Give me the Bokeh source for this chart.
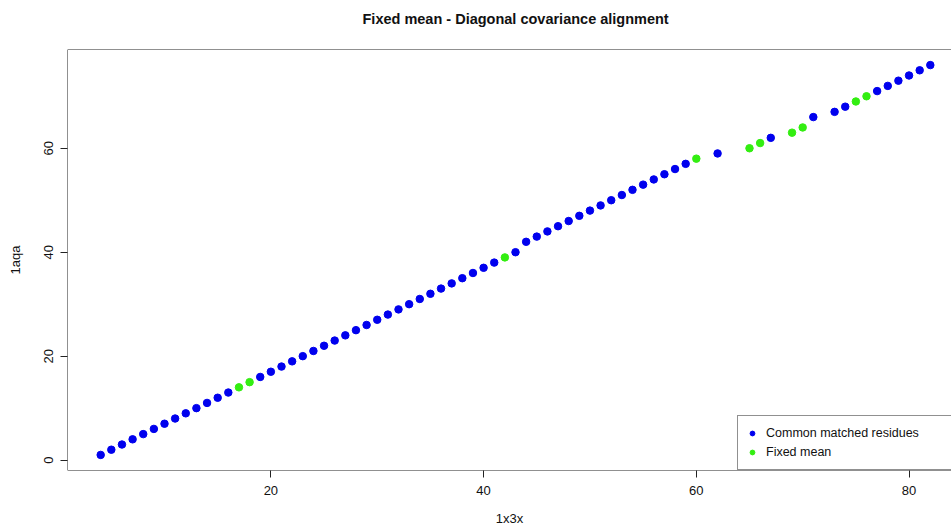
from bokeh.plotting import figure
from bokeh.models import Range1d, Span, Title
from bokeh.embed import file_html
from bokeh.resources import INLINE

# Residue index pairs (1x3x, 1aqa)
common_x = [4, 5, 6, 7, 8, 9, 10, 11, 12, 13, 14, 15, 16,
            19, 20, 21, 22, 23, 24, 25, 26, 27, 28, 29, 30, 31, 32, 33, 34, 35,
            36, 37, 38, 39, 40, 41, 43,
            44, 45, 46, 47, 48, 49, 50, 51, 52, 53, 54, 55, 56, 57, 58, 59,
            62, 67, 71, 73, 74, 77, 78, 79, 80, 81, 82]
common_y = [1, 2, 3, 4, 5, 6, 7, 8, 9, 10, 11, 12, 13,
            16, 17, 18, 19, 20, 21, 22, 23, 24, 25, 26, 27, 28, 29, 30, 31, 32,
            33, 34, 35, 36, 37, 38, 40,
            42, 43, 44, 45, 46, 47, 48, 49, 50, 51, 52, 53, 54, 55, 56, 57,
            59, 62, 66, 67, 68, 71, 72, 73, 74, 75, 76]
fixed_x = [17, 18, 42, 60, 65, 66, 69, 70, 75, 76]
fixed_y = [14, 15, 39, 58, 60, 61, 63, 64, 69, 70]

x_ticks = [20, 40, 60, 80]
y_ticks = [0, 20, 40, 60]

TITLE = "Fixed mean - Diagonal covariance alignment"
FONT = "Liberation Sans"

all_x = common_x + fixed_x
all_y = common_y + fixed_y
# R-style 4% padding on both axes
xlo = min(all_x) - 0.04 * (max(all_x) - min(all_x))
xhi = max(all_x) + 0.04 * (max(all_x) - min(all_x))
ylo = min(all_y) - 0.04 * (max(all_y) - min(all_y))
yhi = max(all_y) + 0.04 * (max(all_y) - min(all_y))
# the canvas ends a little before the right edge of the plot region
x_end = xlo + (xhi - xlo) * 884.0 / 896.0

p = figure(width=951, height=529, output_backend="svg", toolbar_location=None,
           x_range=Range1d(xlo, x_end), y_range=Range1d(ylo, yhi),
           title_location=None,
           min_border_left=67, min_border_right=0, min_border_top=49,
           min_border_bottom=59)

p.background_fill_color = "white"
p.border_fill_color = "white"
p.outline_line_color = None
p.xgrid.visible = False
p.ygrid.visible = False

# box around the plot region (right side falls outside the canvas)
for loc, dim in [(yhi, "width"), (ylo, "width")]:
    p.add_layout(Span(location=loc, dimension=dim, line_color="#222222", line_width=1))
p.add_layout(Span(location=xlo, dimension="height", line_color="#222222", line_width=1))

p.scatter(common_x, common_y, size=7.5, color="#0000EE",
          legend_label="Common matched residues")
p.scatter(fixed_x, fixed_y, size=7.5, color="#33EE11",
          legend_label="Fixed mean")

# spacer between the frame and the title
p.add_layout(Title(text=" ", text_font_size="10px", standoff=5), "above")
p.add_layout(Title(text=TITLE, align="left", offset=295, standoff=10,
                   text_font=FONT, text_font_size="14.5px",
                   text_font_style="bold", text_color="#111111"), "above")

for ax in (p.xaxis[0], p.yaxis[0]):
    ax.axis_line_color = None
    ax.major_tick_in = 0
    ax.major_tick_out = 7
    ax.minor_tick_in = 0
    ax.minor_tick_out = 0
    ax.major_tick_line_color = "#222222"
    ax.major_label_text_font = FONT
    ax.major_label_text_font_size = "13px"
    ax.major_label_text_color = "#111111"
    ax.axis_label_text_font = FONT
    ax.axis_label_text_font_size = "13px"
    ax.axis_label_text_font_style = "normal"
    ax.axis_label_text_color = "#111111"

p.xaxis.ticker = x_ticks
p.yaxis.ticker = y_ticks
p.xaxis.axis_label = "1x3x"
p.yaxis.axis_label = "1aqa"
p.xaxis.major_label_standoff = 8
p.xaxis.axis_label_standoff = 13
p.yaxis.major_label_orientation = "vertical"
p.yaxis.major_label_standoff = 7
p.yaxis.axis_label_standoff = 19

lg = p.legend[0]
lg.location = (670, 0)
lg.margin = 0
lg.padding = 8
lg.spacing = 1
lg.glyph_width = 12
lg.glyph_height = 18
lg.label_height = 18
lg.label_standoff = 8
lg.label_width = 220
lg.label_text_font = FONT
lg.label_text_font_size = "12.5px"
lg.label_text_color = "#111111"
lg.border_line_color = "#222222"
lg.border_line_width = 1
lg.background_fill_color = "white"
lg.background_fill_alpha = 1.0

open("out.html", "w").write(file_html(p, INLINE))
